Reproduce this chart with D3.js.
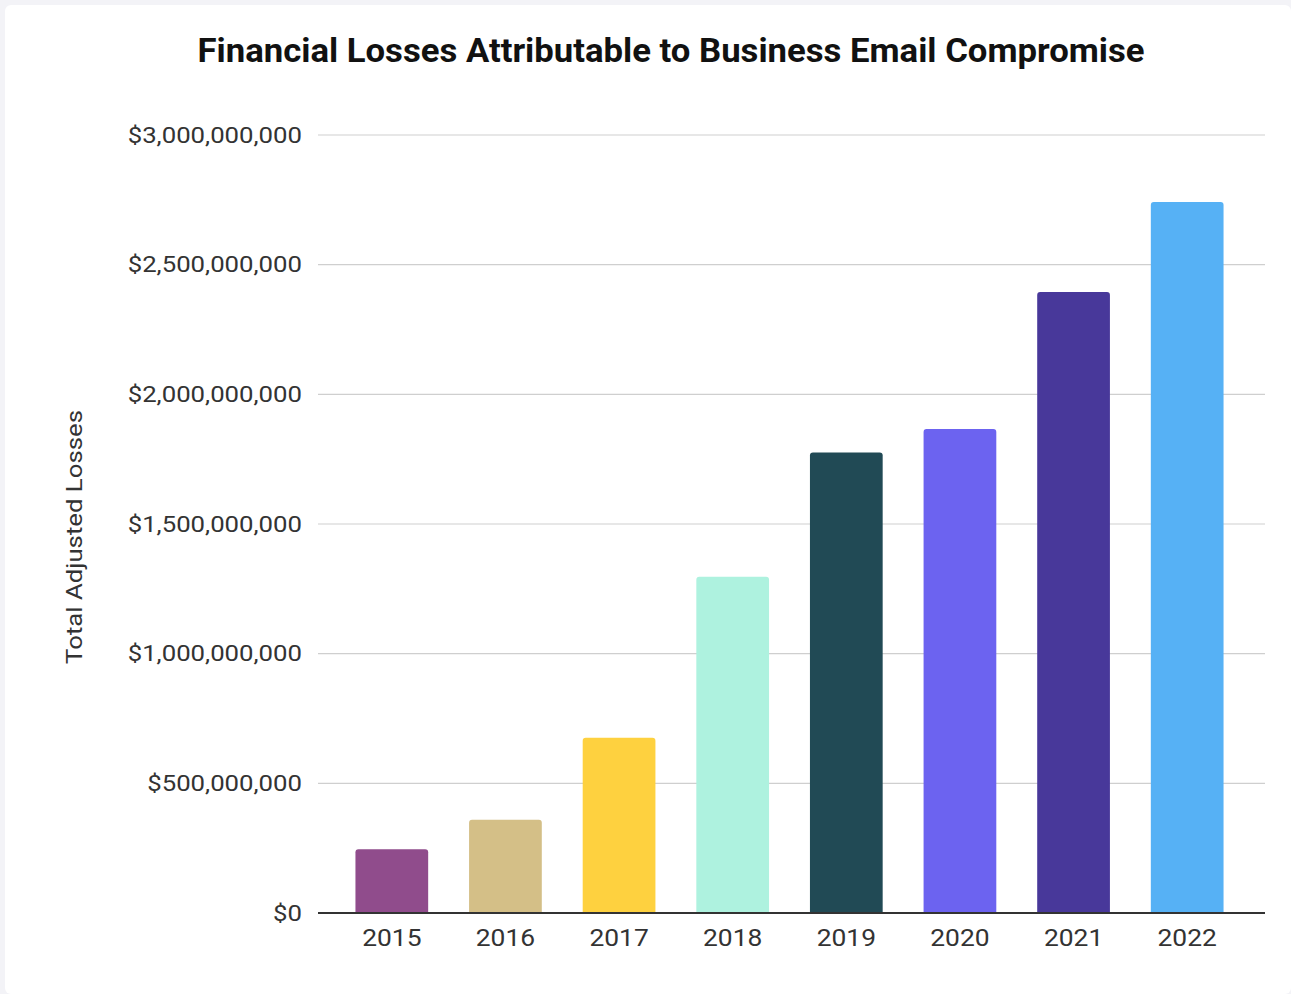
<!DOCTYPE html>
<html>
<head>
<meta charset="utf-8">
<script src="https://cdn.jsdelivr.net/npm/d3@7"></script>
<style>
  html, body { margin: 0; padding: 0; background: #f3f3f7; }
  svg { display: block; }
</style>
</head>
<body>
<svg id="chart" width="1291" height="994"></svg>
<script>
// Annual BEC losses reported (USD)
const years = ["2015", "2016", "2017", "2018", "2019", "2020", "2021", "2022"];
const losses = [246000000, 360000000, 676000000, 1297000000, 1776000000, 1866000000, 2395000000, 2742000000];
const barColors = ["#904c8c", "#d4bf87", "#fed13f", "#aef2df", "#214a55", "#6c63f0", "#48389a", "#56b1f5"];
const yTicks = [0, 500000000, 1000000000, 1500000000, 2000000000, 2500000000, 3000000000];

const svg = d3.select("#chart");
const W = 1291, H = 994;

// widen glyph runs horizontally by a factor, keeping the anchor
function widen(sel, factor) {
  sel.each(function () {
    const len = this.getComputedTextLength();
    d3.select(this).attr("textLength", len * factor).attr("lengthAdjust", "spacingAndGlyphs");
  });
}

// white card
svg.append("rect").attr("x", 5).attr("y", 5).attr("width", W - 5).attr("height", H - 5)
  .attr("rx", 6).attr("fill", "#ffffff");

const plot = { left: 318, right: 1265, top: 135, bottom: 913 };

const y = d3.scaleLinear().domain([0, 3000000000]).range([plot.bottom, plot.top]);
const x = d3.scaleBand().domain(years).range([335, 1244]).paddingInner(0.36).paddingOuter(0.18);

const fmt = v => "$" + d3.format(",")(v);

// gridlines
svg.append("g").selectAll("line").data(yTicks.filter(d => d > 0)).join("line")
  .attr("x1", plot.left).attr("x2", plot.right)
  .attr("y1", d => y(d)).attr("y2", d => y(d))
  .attr("stroke", "#cfcfcf").attr("stroke-width", 1.2);

// y axis labels
const yAxis = d3.axisLeft(y).tickValues(yTicks).tickFormat(fmt).tickSize(0).tickPadding(16);
const gy = svg.append("g").attr("transform", `translate(${plot.left},0)`).call(yAxis);
gy.select(".domain").remove();
gy.selectAll("text")
  .attr("font-family", "Roboto, sans-serif").attr("font-size", 22)
  .attr("fill", "#333333")
  .call(widen, 1.17);

// bars with slightly rounded tops
const r = 3;
svg.append("g").selectAll("path").data(years).join("path")
  .attr("fill", (d, i) => barColors[i])
  .attr("d", (d, i) => {
    const x0 = x(d), w = x.bandwidth(), y0 = y(losses[i]), yb = y(0);
    return `M${x0},${yb}V${y0 + r}Q${x0},${y0} ${x0 + r},${y0}H${x0 + w - r}Q${x0 + w},${y0} ${x0 + w},${y0 + r}V${yb}Z`;
  });

// x axis
const xAxis = d3.axisBottom(x).tickSize(0).tickPadding(16);
const gx = svg.append("g").attr("transform", `translate(0,${plot.bottom})`).call(xAxis);
gx.select(".domain").remove();
gx.selectAll("text")
  .attr("font-family", "Roboto, sans-serif").attr("font-size", 24)
  .attr("fill", "#333333")
  .call(widen, 1.1);
svg.append("line")
  .attr("x1", plot.left).attr("x2", plot.right)
  .attr("y1", plot.bottom).attr("y2", plot.bottom)
  .attr("stroke", "#333333").attr("stroke-width", 2);

// title
svg.append("text")
  .attr("x", 671).attr("y", 62).attr("text-anchor", "middle")
  .attr("font-family", "Roboto, sans-serif").attr("font-weight", "bold")
  .attr("font-size", 34).attr("fill", "#111111")
  .text("Financial Losses Attributable to Business Email Compromise")
  .each(function () {
    d3.select(this).attr("textLength", 947).attr("lengthAdjust", "spacingAndGlyphs");
  });

// y axis title
svg.append("text")
  .attr("transform", "translate(82,537) rotate(-90)").attr("text-anchor", "middle")
  .attr("font-family", "Roboto, sans-serif").attr("font-size", 22).attr("fill", "#333333")
  .text("Total Adjusted Losses")
  .call(widen, 1.17);
</script>
</body>
</html>
